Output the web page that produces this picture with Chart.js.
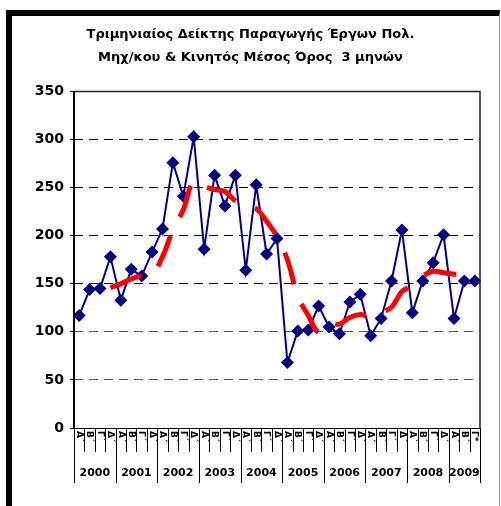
<!DOCTYPE html>
<html>
<head>
<meta charset="utf-8">
<script src="https://cdn.jsdelivr.net/npm/chart.js@4.4.1/dist/chart.umd.min.js"></script>
<style>
  body { margin: 0; background: #fff; }
  #wrap { position: relative; width: 501px; height: 506px; overflow: hidden; }
  #chart { position: absolute; left: 0; top: 0; }
  #frame {
    position: absolute; left: 6px; top: 10px; width: 494px; height: 496px;
    box-sizing: border-box; border-left: 6px solid #000; border-top: 6px solid #000;
    border-right: 1px solid #999; pointer-events: none;
  }
</style>
</head>
<body>
<div id="wrap">
  <canvas id="chart" width="501" height="506"></canvas>
  <div id="frame"></div>
</div>
<script>
// Quarterly production index of civil engineering works + moving average

// Quarter labels (Α΄..Δ΄), 2000 Q1 to 2009 Q3
const quarterLabels = [
    'Α΄', 'Β΄', 'Γ΄', 'Δ΄', 'Α΄', 'Β΄', 'Γ΄', 'Δ΄', 'Α΄', 'Β΄', 'Γ΄', 'Δ΄',
    'Α΄', 'Β΄', 'Γ΄', 'Δ΄', 'Α΄', 'Β΄', 'Γ΄', 'Δ΄', 'Α΄', 'Β΄', 'Γ΄', 'Δ΄',
    'Α΄', 'Β΄', 'Γ΄', 'Δ΄', 'Α΄', 'Β΄', 'Γ΄', 'Δ΄', 'Α΄', 'Β΄', 'Γ΄', 'Δ΄',
    'Α΄', 'Β΄', 'Γ*'
];
const yearLabels = ['2000', '2001', '2002', '2003', '2004', '2005', '2006', '2007', '2008', '2009'];

// Quarterly index values
const indexValues = [
    117, 144, 145, 178, 133, 165, 158, 183, 207, 276, 241, 303,
    186, 263, 231, 263, 164, 253, 181, 197, 68, 101, 102, 127,
    105, 98, 131, 139, 96, 114, 153, 206, 120, 153, 172, 201,
    114, 153, 153
];

// Moving average (red dashed line)
const movingAvgValues = [
    null, null, null, 146, 150, 155, 158.5, 160, 178, 206, 227, 257,
    251.5, 248, 246, 236, 230, 228, 215, 199, 175, 137, 117, 99.5,
    109, 108, 115, 118, 116, 120, 125.5, 142, 148, 158, 163, 161.5,
    160, 160, 155
];

const yTicks = [0, 50, 100, 150, 200, 250, 300, 350];

const titleLines = [
    'Τριμηνιαίος Δείκτης Παραγωγής Έργων Πολ.',
    'Μηχ/κου & Κινητός Μέσος Όρος  3 μηνών'
];

// Draws the two-level category axis (rotated quarters + years) and the plot frame
const axisPlugin = {
    id: 'axisPlugin',
    afterDraw(chart) {
        const ctx = chart.ctx;
        const xs = chart.scales.x;
        const area = chart.chartArea;
        const n = quarterLabels.length;
        const half = (xs.getPixelForValue(1) - xs.getPixelForValue(0)) / 2;
        const base = area.bottom;

        ctx.save();
        ctx.setLineDash([]);
        // frame of the plot area
        ctx.strokeStyle = '#222';
        ctx.lineWidth = 1.5;
        ctx.beginPath();
        ctx.moveTo(area.left, area.top);
        ctx.lineTo(area.right, area.top);
        ctx.lineTo(area.right, area.bottom);
        ctx.stroke();
        // left axis
        ctx.strokeStyle = '#000';
        ctx.lineWidth = 2;
        ctx.beginPath();
        ctx.moveTo(area.left, area.top);
        ctx.lineTo(area.left, area.bottom);
        ctx.stroke();

        // separators
        ctx.lineWidth = 1;
        for (let i = 0; i <= n; i++) {
            const px = Math.round(xs.getPixelForValue(Math.min(i, n - 1)) + (i < n ? -half : half)) + 0.5;
            const isYear = i % 4 === 0 || i === n;
            ctx.beginPath();
            ctx.moveTo(px, base);
            ctx.lineTo(px, base + (isYear ? 55 : 24));
            ctx.stroke();
        }

        // quarter labels, rotated clockwise
        ctx.fillStyle = '#000';
        ctx.font = 'bold 9px "DejaVu Sans"';
        ctx.textAlign = 'left';
        ctx.textBaseline = 'middle';
        quarterLabels.forEach((lab, i) => {
            ctx.save();
            ctx.translate(xs.getPixelForValue(i), base + 3);
            ctx.rotate(Math.PI / 2);
            ctx.fillText(lab, 0, 0);
            ctx.restore();
        });

        // year labels
        ctx.font = 'bold 11px "DejaVu Sans"';
        ctx.textAlign = 'center';
        yearLabels.forEach((yr, k) => {
            const first = k * 4;
            const last = Math.min(first + 3, n - 1);
            const cx = (xs.getPixelForValue(first) + xs.getPixelForValue(last)) / 2;
            ctx.fillText(yr, cx, base + 45);
        });
        ctx.restore();
    }
};

new Chart(document.getElementById('chart'), {
    type: 'line',
    data: {
        labels: quarterLabels,
        datasets: [{
            label: 'Κινητός Μέσος Όρος',
            data: movingAvgValues,
            borderColor: '#ff0000',
            borderWidth: 5,
            borderDash: [33, 21],
            pointRadius: 0,
            tension: 0.35,
            fill: false
        }, {
            label: 'Δείκτης',
            data: indexValues,
            borderColor: '#000080',
            backgroundColor: '#000080',
            borderWidth: 2,
            pointStyle: 'rectRot',
            pointRadius: 6.5,
            pointBorderWidth: 0,
            tension: 0,
            fill: false
        }]
    },
    options: {
        responsive: false,
        animation: false,
        layout: { padding: 0 },
        plugins: {
            legend: { display: false },
            tooltip: { enabled: false },
            title: {
                display: true,
                text: titleLines,
                color: '#000',
                font: { family: '"DejaVu Sans"', size: 13, weight: 'bold', lineHeight: 1.75 },
                padding: { top: 23, bottom: 23 }
            }
        },
        scales: {
            x: {
                offset: true,
                ticks: { display: false },
                grid: { display: false },
                border: { display: true, color: '#000', width: 1 },
                afterFit(scale) { scale.height = 78; }
            },
            y: {
                min: 0,
                max: 350,
                afterBuildTicks(scale) { scale.ticks = yTicks.map(v => ({ value: v })); },
                ticks: {
                    color: '#000',
                    padding: 6,
                    font: { family: '"DejaVu Sans"', size: 14, weight: 'bold' }
                },
                grid: {
                    color: ctx => (ctx.tick && (ctx.tick.value === 0 || ctx.tick.value === 350)) ? 'rgba(0,0,0,0)'
                        : (ctx.tick && ctx.tick.value <= 100 ? '#555' : '#000'),
                    tickBorderDash: [],
                    tickColor: '#000',
                    tickLength: 4,
                    lineWidth: 1
                },
                border: { display: false, dash: [9, 6] },
                afterFit(scale) { scale.width = 74; }
            },
            // empty right axis only reserves the margin right of the plot
            yRight: {
                position: 'right',
                min: 0,
                max: 350,
                ticks: { display: false },
                grid: { display: false },
                border: { display: false },
                afterFit(scale) { scale.width = 21; }
            }
        }
    },
    plugins: [axisPlugin]
});
</script>
</body>
</html>
